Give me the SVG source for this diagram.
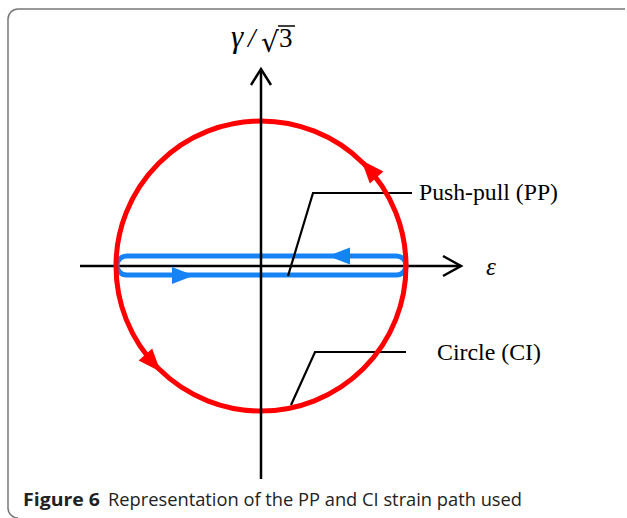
<svg xmlns="http://www.w3.org/2000/svg" width="627" height="518" viewBox="0 0 627 518">
<style>
.ax{stroke:#000;stroke-width:2.5;fill:none}
.ld{stroke:#000;stroke-width:2.2;fill:none}
.lbl{font-family:"Liberation Serif","Times New Roman",serif;font-size:23px;fill:#000}
.cap{font-family:"Open Sans","Noto Sans",sans-serif;font-size:18px;fill:#222}
</style>
<rect width="627" height="518" fill="#fff"/>
<path d="M625 9 H18 A10 10 0 0 0 8 19 V508 A10 10 0 0 0 18 518" fill="none" stroke="#777" stroke-width="1.5"/>
<g id="axis-x">
<line class="ax" x1="80" y1="266" x2="461" y2="266"/>
<polyline class="ax" points="443,256 461,266 443,276"/>
</g>
<g id="pp-path">
<rect x="117" y="256" width="289" height="19" rx="9.5" fill="none" stroke="#1683f5" stroke-width="5"/>
<polygon points="194,275.5 172,267 172,284" fill="#1683f5"/>
<polygon points="328,256 350,247.5 350,264.5" fill="#1683f5"/>
</g>
<g id="connectors">
<polyline class="ld" points="288,276 313,193 412,193"/>
<polyline class="ld" points="291,405 315,352 406,352"/>
</g>
<g id="ci-path">
<circle cx="261" cy="266" r="145" fill="none" stroke="#ff0000" stroke-width="5"/>
<polygon points="13,0 -10,-9 -10,9" fill="#ff0000" transform="translate(370,170) rotate(-131.2)"/>
<polygon points="13,0 -10,-9 -10,9" fill="#ff0000" transform="translate(152,362) rotate(48.8)"/>
</g>
<g id="axis-y">
<line class="ax" x1="261" y1="69" x2="261" y2="479"/>
<polyline class="ax" points="251,85 261,69 271,85"/>
</g>
<g id="label-y">
<text x="231" y="47" style="font-family:'Liberation Serif',serif;font-style:italic;font-size:31px">γ</text>
<text x="248" y="47" style="font-family:'Liberation Serif',serif;font-style:italic;font-size:27px">/</text>
<text x="261" y="52" style="font-family:'DejaVu Serif',serif;font-size:28px">√</text>
<line x1="278" y1="26" x2="295" y2="26" stroke="#000" stroke-width="1.5"/>
<text x="279" y="47" style="font-family:'Liberation Serif',serif;font-size:27px">3</text>
</g>
<g id="label-x">
<text x="486" y="275" style="font-family:'Liberation Serif',serif;font-style:italic;font-size:25px">ε</text>
</g>
<g id="label-pp">
<text class="lbl" x="419" y="200" textLength="139" lengthAdjust="spacingAndGlyphs">Push-pull (PP)</text>
</g>
<g id="label-ci">
<text class="lbl" x="437" y="360" textLength="104" lengthAdjust="spacingAndGlyphs">Circle (CI)</text>
</g>
<g id="caption">
<text class="cap" x="23" y="506" font-weight="bold" textLength="77" lengthAdjust="spacingAndGlyphs">Figure 6</text>
<text class="cap" x="108" y="506" textLength="414" lengthAdjust="spacingAndGlyphs">Representation of the PP and CI strain path used</text>
</g>
</svg>
